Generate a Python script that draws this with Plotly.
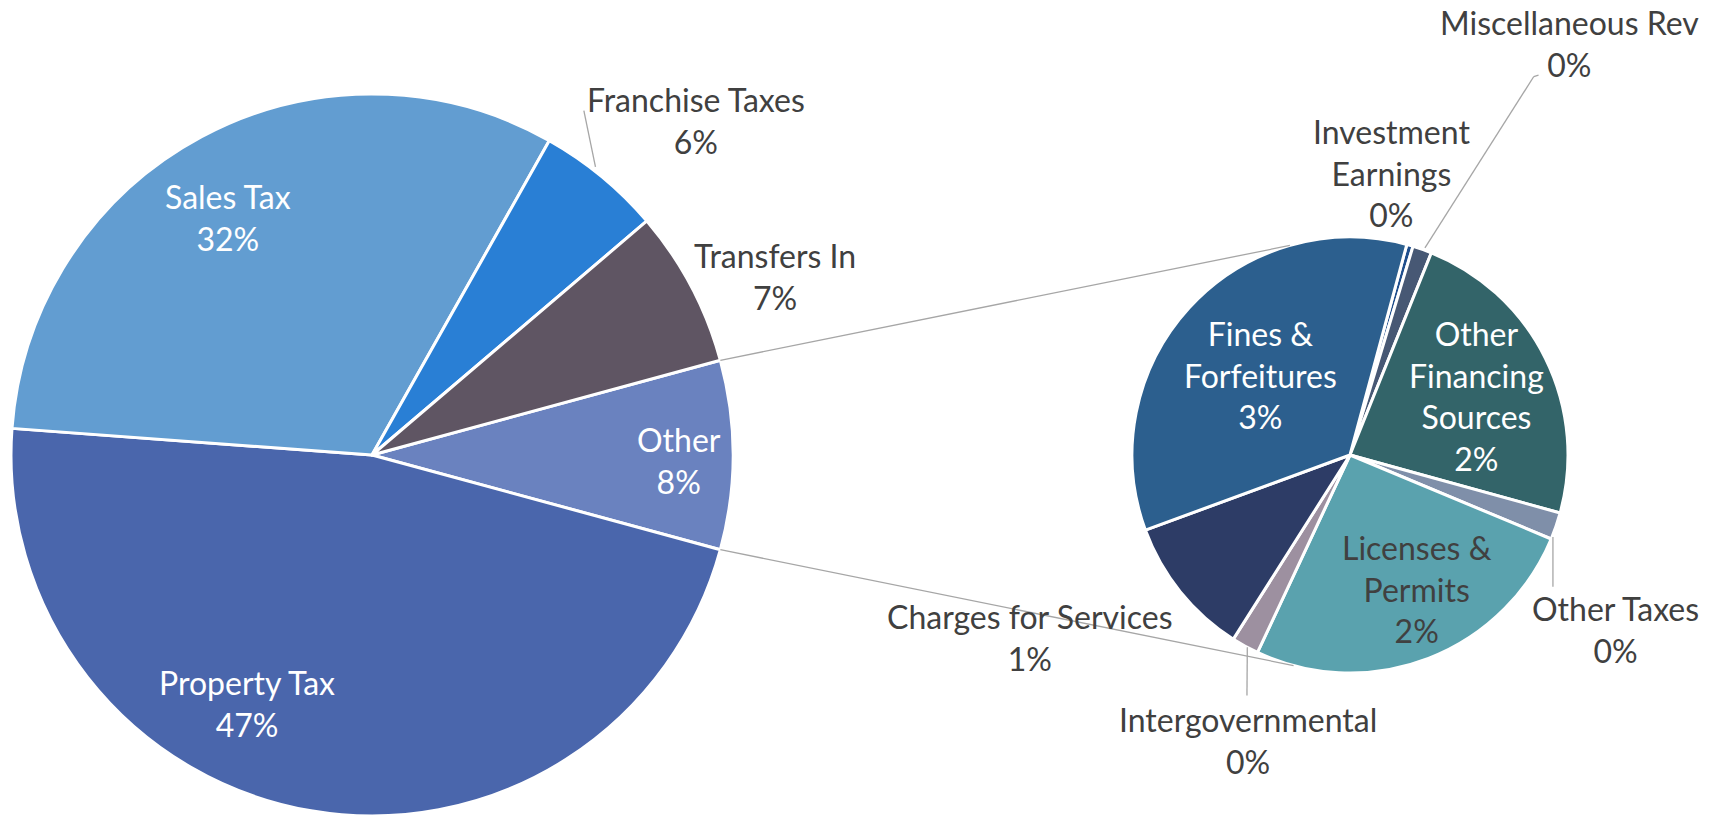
import numpy as np
import plotly.graph_objects as go

W, H = 1726, 817

## main pie, clockwise, starting with the "Other" slice
main_labels = ['Other', 'Property Tax', 'Sales Tax', 'Franchise Taxes', 'Transfers In']
main_colors = ['#6A82BF', '#4A66AC', '#629DD1', '#297FD5', '#5F5563']

## breakdown of "Other", clockwise from the top
sub_labels = ['Investment<br>Earnings', 'Miscellaneous Rev', 'Other<br>Financing<br>Sources', 'Other Taxes',
              'Licenses &<br>Permits', 'Intergovernmental', 'Charges for Services', 'Fines &<br>Forfeitures']
sub_values = [0.04, 0.12, 1.96, 0.17, 2.17, 0.17, 0.88, 2.94]
sub_colors = ['#1F4E8C', '#475874', '#336469', '#7F8FA9', '#5AA2AE', '#9D90A0', '#2D3C66', '#2C5F8E']

main_values = [sum(sub_values), 46.95, 32.0, 5.6, 7.0]
total = sum(main_values)

# geometry (pixels)
C1, R1 = (372, 455), 361
C2, R2 = (1350, 455), 218
ROT1 = 90 - 180 * main_values[0] / total   # centre "Other" on 3 o'clock
ROT2 = 15.1

# label placement: (radius factor, angle offset in deg, font color)
main_lab = {'Other': (0.85, -1, 'white'), 'Property Tax': (0.77, -17, 'white'),
            'Sales Tax': (0.77, 3, 'white'), 'Franchise Taxes': (1.29, -4.6, '#404040'),
            'Transfers In': (1.22, -3.9, '#404040')}
sub_lab = [(1.31, 7.5, '#404040'), (2.14, -8.7, '#404040'), (0.64, -1.2, 'white'), (1.46, -14.3, '#404040'),
           (0.69, 5.5, '#404040'), (1.39, 9.1, '#404040'), (1.69, -9.2, '#404040'), (0.55, 0.8, 'white')]
# leader lines: list of (radius factor, absolute math angle) points, per label
leaders = {'Franchise Taxes': [(1.01, 52.2), (1.12, 58.4)]}
sub_leaders = {1: [(1.01, 70.1), (1.93, 64.1), (1.945, 63.6)],
               3: [(1.004, -22.0), (1.11, -33.0)],
               5: [(1.0, -118.1), (1.2, -113.2)]}


def mid_angles(values, rot):
    # math angles (deg, ccw from east) of slice edges for a clockwise pie
    start = 90 - rot
    edges = start - np.cumsum([0] + list(values)) / sum(values) * 360
    return edges, (edges[:-1] + edges[1:]) / 2


def polar(c, r, f, a):
    a = np.radians(a)
    return c[0] + f * r * np.cos(a), c[1] - f * r * np.sin(a)


def px(x, y):
    return x / W, 1 - y / H


def dom(c, r):
    return dict(x=[(c[0] - r) / W, (c[0] + r) / W], y=[1 - (c[1] + r) / H, 1 - (c[1] - r) / H])


fig = go.Figure()
fig.add_trace(go.Pie(labels=main_labels, values=main_values, sort=False, direction='clockwise',
                     rotation=ROT1, textinfo='none', hoverinfo='label+percent',
                     marker=dict(colors=main_colors, line=dict(color='white', width=3)),
                     domain=dom(C1, R1), showlegend=False))
fig.add_trace(go.Pie(labels=sub_labels, values=sub_values, sort=False, direction='clockwise',
                     rotation=ROT2, textinfo='none', hoverinfo='label+value',
                     marker=dict(colors=sub_colors, line=dict(color='white', width=3)),
                     domain=dom(C2, R2), showlegend=False))

font = 'Lato, "Open Sans", sans-serif'
FS = 32


def label(x, y, text, col):
    fig.add_annotation(x=px(x, y)[0], y=px(x, y)[1], xref='paper', yref='paper', showarrow=False,
                       xanchor='center', yanchor='middle', align='center',
                       text=text, font=dict(family=font, size=FS, color=col))


e1, m1 = mid_angles(main_values, ROT1)
for lab, v, a in zip(main_labels, main_values, m1):
    f, off, col = main_lab[lab]
    label(*polar(C1, R1, f, a + off), f'{lab}<br>{v / total:.0%}', col)

e2, m2 = mid_angles(sub_values, ROT2)
for i, (lab, v, a) in enumerate(zip(sub_labels, sub_values, m2)):
    f, off, col = sub_lab[i]
    label(*polar(C2, R2, f, a + off), f'{lab}<br>{v / total:.0%}', col)

shapes = []
def seg(p0, p1, color='#A6A6A6', width=1.3):
    x0, y0 = px(*p0)
    x1, y1 = px(*p1)
    shapes.append(dict(type='line', xref='paper', yref='paper', x0=x0, y0=y0, x1=x1, y1=y1,
                       line=dict(color=color, width=width)))

for lab, pts in leaders.items():
    for a, b in zip(pts[:-1], pts[1:]):
        seg(polar(C1, R1, *a), polar(C1, R1, *b))
for i, pts in sub_leaders.items():
    for a, b in zip(pts[:-1], pts[1:]):
        seg(polar(C2, R2, *a), polar(C2, R2, *b))

# connector lines between the "Other" slice and the secondary pie
seg(polar(C1, R1, 1.0, e1[0]), polar(C2, R2, 1.0, 106))
seg(polar(C1, R1, 1.0, e1[1]), polar(C2, R2, 1.0, -105))

fig.update_layout(width=W, height=H, margin=dict(l=0, r=0, t=0, b=0),
                  paper_bgcolor='white', plot_bgcolor='white', shapes=shapes,
                  font=dict(family=font))
fig.write_html("out.html", config={'displayModeBar': False},
               post_script="document.body.style.margin='0';")
